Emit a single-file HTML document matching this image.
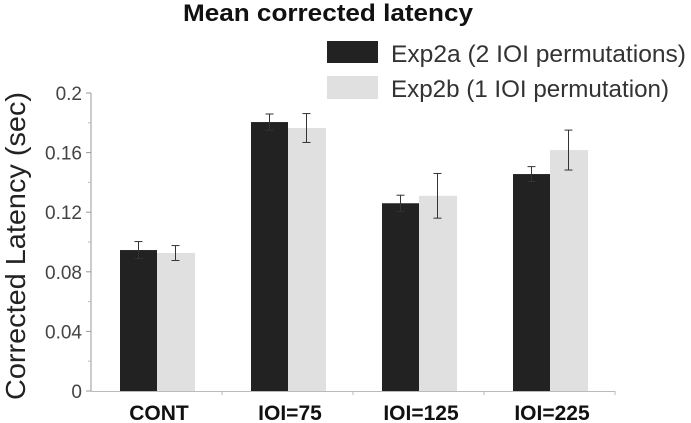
<!DOCTYPE html>
<html><head><meta charset="utf-8"><style>
body{margin:0;background:#fff;}
svg{display:block;font-family:"Liberation Sans",Arial,sans-serif;}
</style></head><body>
<svg width="691" height="423" viewBox="0 0 691 423">
<text x="183" y="21" font-size="24" font-weight="bold" fill="#111" textLength="290" lengthAdjust="spacingAndGlyphs">Mean corrected latency</text>
<g>
<rect x="327" y="41" width="51" height="22" fill="#222"/>
<text x="391" y="62" font-size="24" fill="#333" textLength="295" lengthAdjust="spacingAndGlyphs">Exp2a (2 IOI permutations)</text>
<rect x="327" y="76" width="51" height="23" fill="#e0e0e0"/>
<text x="391" y="97" font-size="24" fill="#333" textLength="278" lengthAdjust="spacingAndGlyphs">Exp2b (1 IOI permutation)</text>
</g>
<text transform="translate(25,246) rotate(-90)" font-size="28" text-anchor="middle" fill="#222" textLength="308" lengthAdjust="spacingAndGlyphs">Corrected Latency (sec)</text>
<g id="plot"></g>
</svg>
<script>
const categories=["CONT","IOI=75","IOI=125","IOI=225"];
const exp2a=[0.0946,0.1805,0.126,0.1456];
const exp2aErr=[0.0057,0.0054,0.0054,0.005];
const exp2b=[0.0926,0.1765,0.131,0.1617];
const exp2bErr=[0.005,0.0097,0.015,0.0134];
const yTicks=[0,0.04,0.08,0.12,0.16,0.2];
const yTickLabels=["0","0.04","0.08","0.12","0.16","0.2"];
const NS="http://www.w3.org/2000/svg";
const g=document.getElementById('plot');
const y0=391,y1=93,ax=91;
const y=v=>y0-(v/0.2)*(y0-y1);
const xc=i=>157+i*131;
const bw=37;
function mk(t,a){const e=document.createElementNS(NS,t);for(const k in a)e.setAttribute(k,a[k]);g.appendChild(e);return e;}
let axis=mk('line',{x1:ax,y1:y1,x2:ax,y2:y0,stroke:'#999','stroke-width':1});


let xaxis=mk('line',{x1:ax,y1:y0+0.5,x2:ax+131*4,y2:y0+0.5,stroke:'#bbb','stroke-width':1});


for(let k=1;k<=categories.length;k++){
 let t=mk('line',{x1:ax+131*k,y1:y0,x2:ax+131*k,y2:y0+4,stroke:'#bbb'});
 
 
}
yTicks.forEach((v,i)=>{
 let t=mk('line',{x1:ax-5,y1:y(v),x2:ax,y2:y(v),stroke:'#999'});
 
 
 let l=mk('text',{x:ax-9,y:y(v)+7,'font-size':19,'text-anchor':'end',fill:'#444'});
 l.textContent=yTickLabels[i];
 
 
 if(i<yTicks.length-1){
  let m=mk('line',{x1:ax-3,y1:y(v+0.02),x2:ax,y2:y(v+0.02),stroke:'#bbb'});
  
  
 }
});
function err(cx,v,e){
 const s={stroke:'#333','stroke-width':1};
 let a=mk('line',Object.assign({x1:cx,x2:cx,y1:y(v+e),y2:y(v-e)},s));
 
 
 let b=mk('line',Object.assign({x1:cx-4,x2:cx+4,y1:y(v+e),y2:y(v+e)},s));
 
 
 let c=mk('line',Object.assign({x1:cx-4,x2:cx+4,y1:y(v-e),y2:y(v-e)},s));
 
 
}
categories.forEach((c,i)=>{
 let cx=xc(i);
 let r1=mk('rect',{x:cx-bw,y:y(exp2a[i]),width:bw,height:y0-y(exp2a[i]),fill:'#222'});
 
 
 let r2=mk('rect',{x:cx,y:y(exp2b[i]),width:bw+1,height:y0-y(exp2b[i]),fill:'#e0e0e0'});
 
 
 err(cx-bw/2,exp2a[i],exp2aErr[i]);
 err(cx+bw/2,exp2b[i],exp2bErr[i]);
 let t=mk('text',{x:cx+2,y:420,'font-size':21,'font-weight':'bold','text-anchor':'middle',fill:'#111'});
 t.textContent=c;
 
 
});
</script>
</body></html>
